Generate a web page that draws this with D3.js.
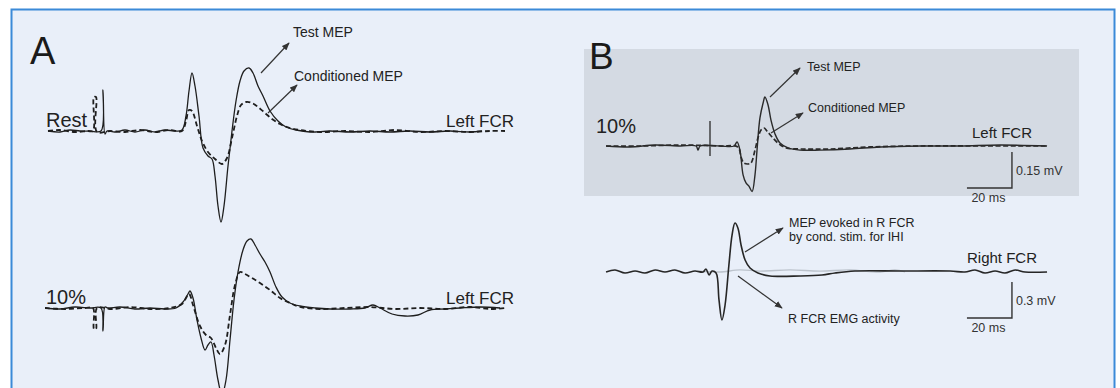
<!DOCTYPE html>
<html>
<head>
<meta charset="utf-8">
<script src="https://cdn.jsdelivr.net/npm/d3@7"></script>
<style>
  body { margin: 0; background: #fff; }
  svg { display: block; font-family: "Liberation Sans", Arial, sans-serif; }
</style>
</head>
<body>
<div id="fig"></div>
<script>
// traces are [time ms, amplitude mV]

// panel A, rest
var restTest = [[-9.8,0],[-7.4,-0.02],[-5.4,0.02],[-3.4,0],[-1.4,0],[0.8,0],[1.2,0.82],[1.6,-0.06],[2.0,0],
  [3.6,-0.02],[5.6,0.02],[7.6,-0.02],[9.6,0.02],[11.6,-0.02],[13.6,0.02],[15.6,0],[17.0,0.02],
  [17.8,0.30],[18.4,0.80],[19.0,1.16],[19.6,0.90],[20.4,0.30],[21.2,-0.34],[22.2,-0.50],[23.0,-0.56],
  [23.6,-0.90],[24.2,-1.50],[24.8,-1.82],[25.4,-1.50],[26.2,-0.70],[27.0,0],[27.8,0.60],[28.6,1.00],
  [29.4,1.20],[30.4,1.26],[31.2,1.16],[32.2,0.90],[33.2,0.70],[34.6,0.40],[36.2,0.20],[37.8,0.08],
  [39.8,0.02],[42.6,-0.02],[46.6,0],[50.6,-0.02],[54.6,0],[58.6,-0.02],[62.6,0],[66.6,-0.02],
  [70.6,0],[74.6,-0.02],[77.0,0]]
var restCond = [[-9.8,0],[-7.4,0.02],[-4.4,-0.02],[-1.8,0],[-0.8,0],[-0.6,0.68],[-0.2,0.68],[0,-0.02],
  [2.6,0],[5.6,-0.02],[8.6,0.02],[11.6,-0.02],[14.6,0.02],[17,0],[17.8,0.2],[18.4,0.42],[19,0.4],
  [20,0.1],[21,-0.2],[22.2,-0.42],[23.6,-0.56],[25,-0.66],[26,-0.54],[27,-0.14],[28,0.3],[28.8,0.52],
  [29.8,0.58],[31,0.56],[32.2,0.48],[33.6,0.36],[35,0.24],[36.6,0.14],[38.6,0.06],[40.6,0.02],
  [44.6,-0.02],[49.6,0],[54.6,-0.02],[59.6,0.02],[64.6,-0.02],[69.6,0],[74.6,-0.02],[78.6,0],[81.6,0]]

// panel A, 10% contraction
var activeTest = [[-10.4,0],[-7.4,-0.02],[-4.4,0.02],[-1.4,0],[0.8,0],[1.2,-0.46],[1.6,0.02],[2.2,0],
  [4.6,0.02],[7.6,-0.02],[10.6,0],[13.6,-0.02],[15.8,0],[17.2,0.12],[18.2,0.28],[18.6,0.34],[19.2,0.2],
  [20,-0.24],[20.8,-0.6],[21.6,-0.84],[22.2,-0.74],[22.8,-0.68],[23.4,-0.94],[24.2,-1.44],[25,-1.74],
  [25.8,-1.44],[26.6,-0.64],[27.4,0.16],[28.2,0.72],[29.2,1.16],[30,1.34],[30.8,1.38],[31.6,1.26],
  [32.6,1.08],[33.6,0.92],[34.6,0.72],[35.8,0.42],[37,0.22],[38.6,0.1],[40.6,0.04],[43.6,0],
  [46.6,-0.02],[50.6,-0.02],[53.6,0],[55.2,0.06],[56.6,0],[59,-0.12],[61.6,-0.16],[64.2,-0.14],
  [66.6,-0.04],[69.6,-0.02],[72.6,0],[76.6,0.02],[80.6,0]]
var activeCond = [[-10.4,0],[-6.4,-0.02],[-2.4,0],[-0.8,0],[-0.6,-0.42],[-0.2,-0.42],[0,0],[3,-0.02],
  [6.6,0.02],[10.6,-0.02],[14.6,0],[17,0.08],[18.4,0.28],[19.2,0.06],[20.6,-0.36],[21.8,-0.54],
  [22.8,-0.6],[23.8,-0.8],[24.6,-0.92],[25.6,-0.74],[26.6,-0.14],[27.6,0.46],[28.6,0.72],[29.6,0.68],
  [31,0.6],[32.6,0.5],[34.6,0.36],[36.6,0.2],[38.6,0.1],[40.6,0.02],[44.6,-0.02],[49.6,0],[54.6,0.02],
  [59.6,-0.02],[64.6,0],[69.6,-0.02],[74.6,0.02],[78.6,-0.02],[81.6,0]]

// panel B, left FCR at 10%
var leftTest = [[-46.2,0],[-35.6,-0.004],[-24.4,0.004],[-13.3,0],[-6.2,0],[-5.3,-0.017],[-4.4,0],
  [4.4,0],[10.7,0],[12,0.017],[13.3,-0.017],[14.7,-0.12],[16,-0.154],[17.3,-0.167],[18.7,-0.19],
  [20,-0.12],[20.9,-0.017],[22.2,0.117],[23.6,0.179],[24.4,0.204],[25.8,0.171],[27.1,0.108],
  [28.9,0.05],[31.1,0.0125],[34.7,-0.008],[40,-0.017],[48.9,-0.017],[62.2,-0.0125],[75.6,-0.004],
  [93.3,0],[111.1,0],[128.9,0.004],[149.8,0]]
var leftCond = [[-46.2,0],[-31.1,0],[-13.3,0.004],[4.4,0],[12.4,-0.004],[13.8,-0.046],[15.1,-0.071],
  [16.9,-0.075],[18.2,-0.071],[20,-0.017],[21.3,0.033],[22.7,0.067],[24,0.075],[25.3,0.0625],
  [27.6,0.0375],[30.2,0.0125],[33.8,-0.008],[40,-0.0125],[53.3,-0.0125],[71.1,-0.004],[93.3,0],
  [120,0],[149.8,0]]
var stimMark = [[0,0.104],[0,-0.042]]

// panel B, right FCR
var rightMep = [[-46.2,0],[-42.2,0.017],[-37.8,-0.008],[-33.3,0.008],[-28.9,-0.008],[-24.4,0.017],
  [-20,0],[-15.6,0.017],[-11.1,-0.008],[-6.7,0.008],[-3.1,0],[-1.8,0.025],[-0.4,-0.025],[0.9,0.008],
  [2.7,-0.008],[4,-0.233],[5.3,-0.4],[6.7,-0.275],[8.4,0.058],[9.8,0.308],[11.1,0.408],[12.4,0.367],
  [13.8,0.225],[15.6,0.1],[17.8,0.033],[21.3,-0.008],[26.7,-0.033],[40,-0.033],[49.8,-0.025],
  [55.6,-0.008],[64.4,0.008],[84.4,0.008],[106.7,0.008],[113.3,0],[117.8,0.017],[122.2,-0.008],
  [126.7,0.008],[131.1,-0.008],[135.6,0.017],[140,0],[149.8,0]]
var rightEmg = [[-4.4,0.008],[4.4,0],[13.3,0.017],[22.2,0.008],[35.6,0.017],[48.9,0.008],[62.2,0.017],
  [75.6,0],[82.2,0.017],[86.7,0]]

var barTime = 20
var barTop = 0.15
var barBottom = 0.3

var W = 1120, H = 388

var svg = d3.select("#fig").append("svg")
  .attr("width", W)
  .attr("height", H)

var defs = svg.append("defs")
defs.append("marker")
  .attr("id", "head")
  .attr("viewBox", "0 0 10 8")
  .attr("refX", 9)
  .attr("refY", 4)
  .attr("markerWidth", 8)
  .attr("markerHeight", 6.5)
  .attr("markerUnits", "userSpaceOnUse")
  .attr("orient", "auto")
  .append("path")
  .attr("d", "M0,0L10,4L0,8Z")
  .attr("fill", "#333")

// frame
svg.append("rect")
  .attr("x", 11.5).attr("y", 9.5)
  .attr("width", 1103).attr("height", 400)
  .attr("fill", "#e9eff9")
  .attr("stroke", "#3b8ad8")
  .attr("stroke-width", 2)

svg.append("rect")
  .attr("x", 584).attr("y", 49)
  .attr("width", 495).attr("height", 147)
  .attr("fill", "#d4dae3")

// scales
var xA = d3.scaleLinear().domain([0, 80]).range([97, 497])
var yA1 = d3.scaleLinear().domain([0, 1]).range([131, 81])
var yA2 = d3.scaleLinear().domain([0, 1]).range([308, 258])
var xB = d3.scaleLinear().domain([0, 100]).range([710, 935])
var yB1 = d3.scaleLinear().domain([0, barTop]).range([146, 110])
var yB2 = d3.scaleLinear().domain([0, barBottom]).range([272, 236])

var trace = function (data, x, y, opts) {
  var line = d3.line()
    .x(d => x(d[0]))
    .y(d => y(d[1]))
    .curve(d3.curveCatmullRom.alpha(0.5))
  svg.append("path")
    .datum(data)
    .attr("d", line)
    .attr("fill", "none")
    .attr("stroke", opts.color || "#1e1e1e")
    .attr("stroke-width", opts.width || 1.3)
    .attr("stroke-dasharray", opts.dash || null)
    .attr("stroke-linejoin", "round")
}

trace(restCond, xA, yA1, {dash: "5,3", width: 1.8})
trace(restTest, xA, yA1, {width: 1.3})
trace(activeCond, xA, yA2, {dash: "5,3", width: 1.8})
trace(activeTest, xA, yA2, {width: 1.3})

trace(leftCond, xB, yB1, {dash: "5,2.5", width: 1.7, color: "#2a2a2a"})
trace(leftTest, xB, yB1, {width: 1.4, color: "#2a2a2a"})
svg.append("line")
  .attr("x1", xB(stimMark[0][0])).attr("y1", yB1(stimMark[0][1]))
  .attr("x2", xB(stimMark[1][0])).attr("y2", yB1(stimMark[1][1]))
  .attr("stroke", "#2a2a2a").attr("stroke-width", 1.3)

trace(rightEmg, xB, yB2, {width: 1.3, color: "#bcc3cc"})
trace(rightMep, xB, yB2, {width: 1.6, color: "#262626"})

// scale bars
var scaleBar = function (t0, v0, dv, y, mvText) {
  var p = d3.path()
  p.moveTo(xB(t0 - barTime), y(v0))
  p.lineTo(xB(t0), y(v0))
  p.lineTo(xB(t0), y(v0 + dv))
  svg.append("path")
    .attr("d", p.toString())
    .attr("fill", "none")
    .attr("stroke", "#333")
    .attr("stroke-width", 1.4)
  svg.append("text")
    .attr("x", xB(t0) + 4).attr("y", y(v0 + dv / 2) + 5)
    .attr("font-size", 12.5).attr("fill", "#333")
    .text(mvText)
  svg.append("text")
    .attr("x", xB(t0 - barTime / 2) - 1).attr("y", y(v0) + 14)
    .attr("text-anchor", "middle")
    .attr("font-size", 12.5).attr("fill", "#333")
    .text(barTime + " ms")
}
scaleBar(134.2, -0.175, barTop, yB1, barTop + " mV")
scaleBar(134.2, -0.383, barBottom, yB2, barBottom + " mV")

// arrows
var arrow = function (x1, y1, x2, y2) {
  svg.append("line")
    .attr("x1", x1).attr("y1", y1).attr("x2", x2).attr("y2", y2)
    .attr("stroke", "#333").attr("stroke-width", 1.2)
    .attr("marker-end", "url(#head)")
}
arrow(261, 73, 289, 43)
arrow(268, 113, 297, 85)
arrow(770, 97, 800, 68)
arrow(771, 133, 803, 113)
arrow(745, 252, 783, 228)
arrow(738, 276, 782, 308)

// labels
var label = function (x, y, size, txt, color) {
  svg.append("text")
    .attr("x", x).attr("y", y)
    .attr("font-size", size)
    .attr("fill", color || "#222")
    .text(txt)
}
label(30, 64, 38, "A", "#1a1a1a")
label(589, 69, 37, "B", "#1a1a1a")
label(46, 127, 20, "Rest")
label(446, 127, 17, "Left FCR")
label(46, 304, 20, "10%")
label(446, 304, 17, "Left FCR")
label(293, 37, 14, "Test MEP")
label(294, 81, 14, "Conditioned MEP")

label(596, 133, 20, "10%")
label(972, 138, 15, "Left FCR")
label(807, 71, 12.5, "Test MEP")
label(808, 112, 12.5, "Conditioned MEP")
label(967, 263, 15, "Right FCR")
label(789, 227, 12.5, "MEP evoked in R FCR")
label(789, 241, 12.5, "by cond. stim. for IHI")
label(788, 323, 12.5, "R FCR EMG activity")
</script>
</body>
</html>
